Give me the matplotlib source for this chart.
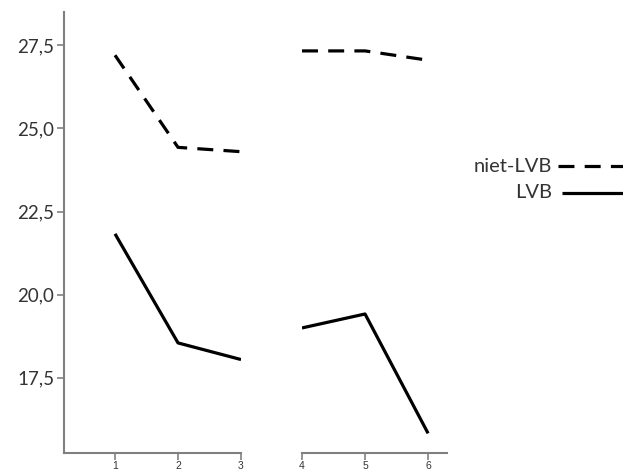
import matplotlib
matplotlib.use("Agg")
import matplotlib.pyplot as plt
from matplotlib.lines import Line2D
from matplotlib.ticker import FuncFormatter, FixedLocator

# Data
x_left = [1, 2, 3]
x_right = [4, 5, 6]
series_names = ["niet-LVB", "LVB"]
niet_lvb_left = [27.2, 24.43, 24.3]
niet_lvb_right = [27.33, 27.33, 27.05]
lvb_left = [21.83, 18.55, 18.05]
lvb_right = [19.0, 19.42, 15.83]
y_ticks = [17.5, 20.0, 22.5, 25.0, 27.5]

W, H = 623, 476
fig = plt.figure(figsize=(W / 100, H / 100), dpi=100)

def fx(px):
    return px / W

def fy(py):
    return 1 - py / H

ax1 = fig.add_axes([fx(64), fy(453), fx(241 - 64), (453 - 12) / H])
ax2 = fig.add_axes([fx(302), fy(453), fx(447 - 302), (453 - 12) / H])

ylim = (15.24, 28.5)
spine_c = "#808080"
dash = (0, (5, 3.2))
lw = 2.3

for ax, xs, a, b, xl in [
    (ax1, x_left, niet_lvb_left, lvb_left, (0.19, 3.0)),
    (ax2, x_right, niet_lvb_right, lvb_right, (4.0, 6.3)),
]:
    ax.plot(xs, a, color="black", lw=lw, linestyle=dash, solid_capstyle="butt")
    ax.plot(xs, b, color="black", lw=lw, solid_capstyle="butt")
    ax.set_xlim(*xl)
    ax.set_ylim(*ylim)
    ax.set_xticks(xs)
    ax.set_xticklabels([str(v) for v in xs], fontsize=7.5, color="#333333",
                       family="Liberation Sans")
    ax.spines["top"].set_visible(False)
    ax.spines["right"].set_visible(False)
    ax.spines["bottom"].set_color(spine_c)
    ax.spines["bottom"].set_linewidth(1.5)
    ax.spines["left"].set_color(spine_c)
    ax.spines["left"].set_linewidth(1.5)
    ax.tick_params(axis="x", direction="out", length=5, width=1.2, color=spine_c, pad=1)
    ax.patch.set_alpha(0)

ax1.yaxis.set_major_locator(FixedLocator(y_ticks))
ax1.yaxis.set_major_formatter(FuncFormatter(lambda v, p: f"{v:.1f}".replace(".", ",")))
ax1.tick_params(axis="y", direction="out", length=5, width=1.2, color=spine_c,
                labelsize=13.5, labelcolor="#333333", pad=2)
for t in ax1.get_yticklabels():
    t.set_family("Lato")

ax2.spines["left"].set_visible(False)
ax2.tick_params(axis="y", left=False, labelleft=False)

# Legend (drawn manually: label right-aligned, line to the right)
leg_rows = [(166, 558, dash), (193, 562, "-")]
for name, (py, px0, ls) in zip(series_names, leg_rows):
    fig.text(fx(552), fy(py), name, ha="right", va="center", fontsize=14.5,
             color="#333333", family="Lato")
    fig.add_artist(Line2D([fx(px0), 1.0], [fy(py), fy(py)], transform=fig.transFigure,
                          color="black", lw=lw, linestyle=ls, solid_capstyle="butt"))

fig.savefig("out.png", dpi=100)
